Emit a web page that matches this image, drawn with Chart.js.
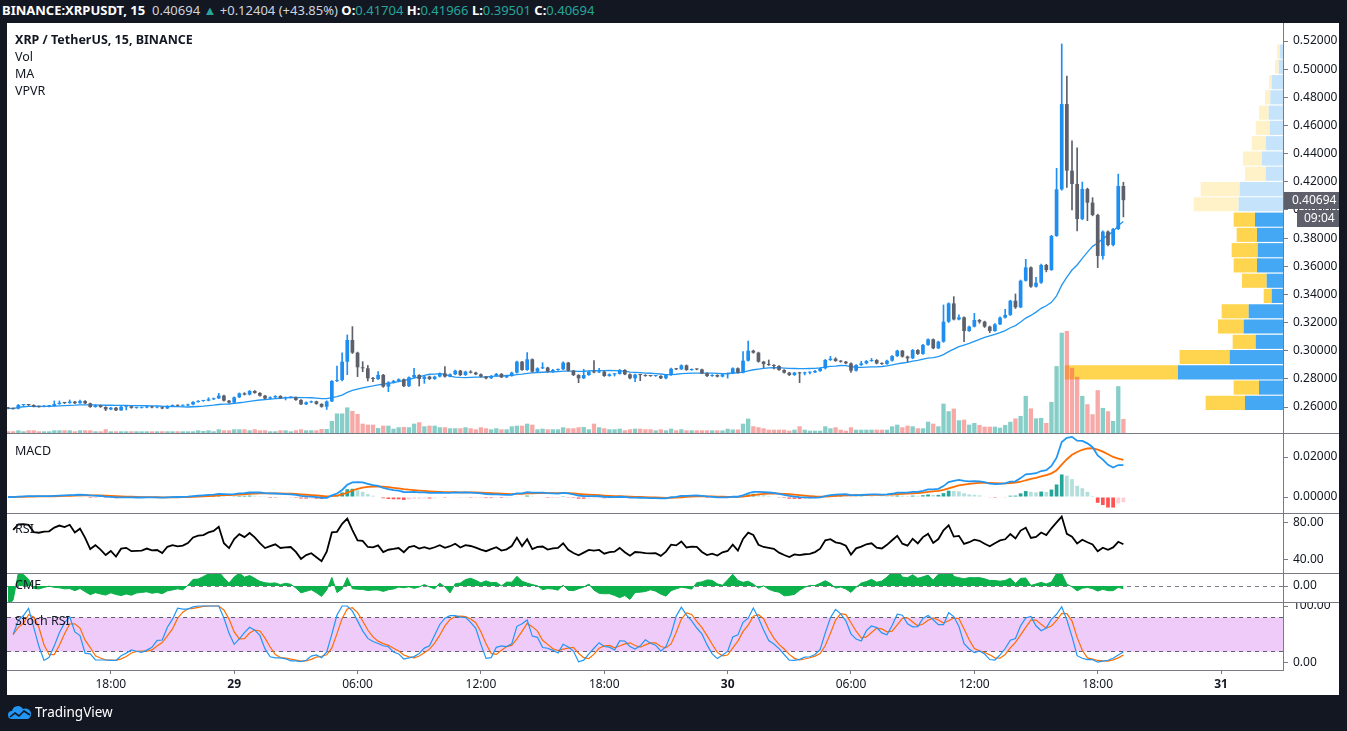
<!DOCTYPE html>
<html>
<head>
<meta charset="utf-8">
<title>XRP / TetherUS, 15, BINANCE</title>
<script src="https://cdn.jsdelivr.net/npm/chart.js@4.4.1/dist/chart.umd.min.js"></script>
<style>
  body { margin: 0; width: 1347px; height: 731px; background: #131722; position: relative; overflow: hidden; font-family: 'Noto Sans', sans-serif; }
  #panel { position: absolute; left: 7px; top: 23px; width: 1332px; height: 672px; background: #fff; }
  canvas { position: absolute; left: 7px; }
  .sep { position: absolute; left: 7px; width: 1332px; height: 1px; background: #787b86; }
  .lbl { position: absolute; left: 15px; font-size: 12.5px; color: #131722; line-height: 17px; white-space: nowrap; }
  #hdr { position: absolute; left: 2px; top: 1px; font-size: 13px; line-height: 18px; color: #d1d4dc; white-space: nowrap; }
  #hdr b { color: #fff; }
  #hdr .g { color: #26a69a; }
  #logo { position: absolute; left: 8px; top: 703px; color: #fff; font-size: 13.5px; line-height: 18px; }
  #logo svg { vertical-align: -3px; margin-right: 3px; }
</style>
</head>
<body>
<div id="hdr"><b>BINANCE:XRPUSDT, 15</b>&nbsp; <span>0.40694</span> <span class="g">▲</span> <span>+0.12404 (+43.85%)</span> <b>O:</b><span class="g">0.41704</span> <b>H:</b><span class="g">0.41966</span> <b>L:</b><span class="g">0.39501</span> <b>C:</b><span class="g">0.40694</span></div>
<div id="panel"></div>

<canvas id="vpvr" width="1276" height="410" style="top:23px"></canvas>
<canvas id="main" width="1332" height="410" style="top:23px"></canvas>
<canvas id="macd" width="1332" height="79" style="top:434px"></canvas>
<canvas id="rsi" width="1332" height="59" style="top:514px"></canvas>
<canvas id="cmf" width="1332" height="28" style="top:574px"></canvas>
<canvas id="stoch" width="1332" height="92" style="top:603px"></canvas>

<div class="sep" style="top:433px"></div>
<div class="sep" style="top:513px"></div>
<div class="sep" style="top:573px"></div>
<div class="sep" style="top:602px"></div>

<div class="lbl" style="top:31px"><b>XRP / TetherUS, 15, BINANCE</b><br>Vol<br>MA<br>VPVR</div>
<div class="lbl" style="top:442px">MACD</div>
<div class="lbl" style="top:520px">RSI</div>
<div class="lbl" style="top:576px">CMF</div>
<div class="lbl" style="top:612px">Stoch RSI</div>

<div id="logo"><svg width="24" height="16" viewBox="0 0 24 16"><path d="M4 15a4 4 0 0 1 0-8 6 6 0 0 1 11-2 5 5 0 0 1 5 10z" fill="#2196f3"/><path d="M2 13l5-4 4 3 5-5 6 4" stroke="#131722" stroke-width="1.6" fill="none"/></svg>TradingView</div>

<script>
// ============================================
// XRPUSDT 15m, 28 13:00 -> 30 19:15 (218 candles)
// ============================================

const firstOpen = 0.2595;

const closes = [
  0.2590,0.2588,0.2614,0.2615,0.2614,0.2603,0.2602,0.2606,0.2607,0.2621,
  0.2630,0.2628,0.2638,0.2627,0.2642,0.2626,0.2600,0.2612,0.2600,0.2583,
  0.2595,0.2576,0.2602,0.2605,0.2594,0.2595,0.2596,0.2602,0.2597,0.2598,
  0.2590,0.2607,0.2612,0.2609,0.2611,0.2618,0.2636,0.2643,0.2645,0.2655,
  0.2661,0.2681,0.2645,0.2631,0.2669,0.2697,0.2688,0.2714,0.2700,0.2680,
  0.2660,0.2669,0.2678,0.2664,0.2667,0.2668,0.2650,0.2619,0.2633,0.2640,
  0.2622,0.2602,0.2640,0.2785,0.2792,0.2922,0.3076,0.2986,0.2882,0.2875,
  0.2804,0.2799,0.2828,0.2745,0.2775,0.2785,0.2797,0.2748,0.2811,0.2827,
  0.2799,0.2816,0.2799,0.2816,0.2839,0.2816,0.2832,0.2858,0.2827,0.2851,
  0.2844,0.2832,0.2816,0.2804,0.2820,0.2835,0.2811,0.2820,0.2844,0.2922,
  0.2863,0.2939,0.2851,0.2875,0.2880,0.2851,0.2863,0.2868,0.2915,0.2858,
  0.2827,0.2804,0.2827,0.2851,0.2846,0.2851,0.2820,0.2832,0.2835,0.2863,
  0.2832,0.2804,0.2830,0.2827,0.2821,0.2820,0.2821,0.2804,0.2827,0.2872,
  0.2868,0.2896,0.2863,0.2868,0.2867,0.2839,0.2820,0.2827,0.2816,0.2832,
  0.2839,0.2875,0.2844,0.2929,0.3000,0.2986,0.2922,0.2905,0.2898,0.2891,
  0.2863,0.2844,0.2827,0.2844,0.2839,0.2844,0.2846,0.2856,0.2875,0.2934,
  0.2943,0.2927,0.2922,0.2910,0.2858,0.2898,0.2910,0.2927,0.2934,0.2910,
  0.2906,0.2929,0.2962,0.3000,0.2958,0.2946,0.3005,0.2977,0.3041,0.3081,
  0.3017,0.3064,0.3206,0.3336,0.3222,0.3237,0.3140,0.3171,0.3218,0.3206,
  0.3171,0.3140,0.3187,0.3235,0.3254,0.3355,0.3308,0.3497,0.3592,0.3455,
  0.3483,0.3609,0.3573,0.3815,0.4146,0.4752,0.4279,0.4184,0.3935,0.4149,
  0.4052,0.3964,0.3673,0.3846,0.3751,0.3864,0.4170,0.40694
];

const highs = [
  0.2598,0.2593,0.2618,0.2619,0.2619,0.2616,0.2607,0.2610,0.2611,0.2643,
  0.2643,0.2634,0.2650,0.2641,0.2650,0.2645,0.2628,0.2615,0.2614,0.2602,
  0.2598,0.2597,0.2605,0.2608,0.2607,0.2599,0.2599,0.2605,0.2604,0.2601,
  0.2600,0.2609,0.2615,0.2614,0.2614,0.2621,0.2639,0.2646,0.2648,0.2666,
  0.2664,0.2697,0.2684,0.2648,0.2672,0.2700,0.2702,0.2717,0.2717,0.2703,
  0.2683,0.2672,0.2681,0.2681,0.2671,0.2672,0.2670,0.2652,0.2636,0.2643,
  0.2642,0.2624,0.2644,0.2788,0.2891,0.2985,0.3112,0.3171,0.2990,0.2922,
  0.2895,0.2810,0.2851,0.2832,0.2780,0.2790,0.2800,0.2800,0.2815,0.2875,
  0.2830,0.2820,0.2820,0.2820,0.2843,0.2887,0.2836,0.2862,0.2861,0.2855,
  0.2858,0.2848,0.2835,0.2818,0.2824,0.2839,0.2838,0.2824,0.2848,0.2926,
  0.2925,0.2986,0.2942,0.2879,0.2915,0.2883,0.2867,0.2871,0.2920,0.2918,
  0.2861,0.2830,0.2868,0.2855,0.2929,0.2875,0.2854,0.2836,0.2839,0.2867,
  0.2866,0.2835,0.2834,0.2833,0.2829,0.2824,0.2824,0.2823,0.2830,0.2876,
  0.2875,0.2900,0.2899,0.2871,0.2871,0.2870,0.2842,0.2830,0.2829,0.2835,
  0.2842,0.2879,0.2878,0.2993,0.3069,0.3004,0.2990,0.2925,0.2934,0.2902,
  0.2894,0.2866,0.2847,0.2847,0.2847,0.2848,0.2850,0.2860,0.2879,0.2938,
  0.2960,0.2950,0.2930,0.2925,0.2913,0.2902,0.2925,0.2931,0.2945,0.2937,
  0.2914,0.2933,0.2966,0.3004,0.3003,0.2962,0.3009,0.3008,0.3045,0.3085,
  0.3084,0.3068,0.3325,0.3340,0.3384,0.3255,0.3240,0.3175,0.3265,0.3222,
  0.3210,0.3175,0.3192,0.3240,0.3294,0.3359,0.3403,0.3502,0.3649,0.3596,
  0.3521,0.3615,0.3614,0.3820,0.4296,0.5179,0.4951,0.4490,0.4442,0.4198,
  0.4155,0.4087,0.3970,0.3852,0.3852,0.3870,0.4255,0.41966
];

const lows = [
  0.2586,0.2584,0.2586,0.2610,0.2610,0.2600,0.2598,0.2600,0.2601,0.2605,
  0.2619,0.2624,0.2626,0.2624,0.2625,0.2623,0.2597,0.2598,0.2597,0.2574,
  0.2580,0.2574,0.2575,0.2579,0.2591,0.2591,0.2592,0.2594,0.2594,0.2594,
  0.2587,0.2588,0.2605,0.2606,0.2606,0.2609,0.2615,0.2634,0.2640,0.2643,
  0.2652,0.2659,0.2642,0.2628,0.2629,0.2666,0.2685,0.2685,0.2697,0.2677,
  0.2657,0.2658,0.2666,0.2661,0.2650,0.2664,0.2647,0.2616,0.2617,0.2630,
  0.2619,0.2598,0.2583,0.2638,0.2780,0.2785,0.2830,0.2980,0.2816,0.2851,
  0.2785,0.2780,0.2795,0.2740,0.2709,0.2770,0.2782,0.2744,0.2745,0.2808,
  0.2749,0.2768,0.2795,0.2796,0.2813,0.2812,0.2813,0.2829,0.2823,0.2824,
  0.2841,0.2829,0.2813,0.2800,0.2802,0.2818,0.2808,0.2808,0.2818,0.2841,
  0.2860,0.2860,0.2847,0.2848,0.2872,0.2848,0.2845,0.2860,0.2866,0.2855,
  0.2823,0.2773,0.2801,0.2825,0.2842,0.2843,0.2817,0.2818,0.2820,0.2833,
  0.2829,0.2800,0.2780,0.2787,0.2818,0.2817,0.2817,0.2801,0.2800,0.2825,
  0.2865,0.2866,0.2860,0.2860,0.2864,0.2836,0.2816,0.2817,0.2813,0.2813,
  0.2805,0.2836,0.2840,0.2842,0.2926,0.2982,0.2918,0.2880,0.2895,0.2870,
  0.2859,0.2840,0.2823,0.2824,0.2773,0.2828,0.2835,0.2843,0.2853,0.2870,
  0.2930,0.2924,0.2918,0.2906,0.2845,0.2855,0.2895,0.2906,0.2924,0.2906,
  0.2902,0.2903,0.2926,0.2958,0.2954,0.2920,0.2943,0.2973,0.2974,0.3038,
  0.3013,0.3014,0.3060,0.3200,0.3218,0.3218,0.3064,0.3136,0.3168,0.3195,
  0.3165,0.3128,0.3137,0.3184,0.3231,0.3250,0.3300,0.3305,0.3494,0.3450,
  0.3452,0.3478,0.3560,0.3570,0.3812,0.4140,0.4160,0.4000,0.3850,0.3930,
  0.3924,0.3958,0.3590,0.3651,0.3745,0.3745,0.3860,0.39501
];

// volume, millions XRP (estimated)
const volumes = [
  1.7,1.7,2.7,1.7,2.7,2.7,1.7,1.7,1.7,2.7,
  2.7,2.7,2.7,1.7,2.7,2.7,2.7,1.7,1.7,3.7,
  1.7,1.7,1.7,1.7,1.7,1.7,1.7,1.7,1.7,1.7,
  1.7,1.7,1.7,1.7,1.7,1.7,1.7,2.7,2.0,2.7,
  1.7,3.7,2.7,2.7,3.7,3.7,3.7,2.7,3.7,2.7,
  2.7,1.7,1.7,2.7,2.7,1.7,2.7,3.7,2.7,2.7,
  2.7,4.0,4.0,12.0,19.5,19.5,25.5,22.0,19.0,9.3,
  8.3,8.3,5.0,7.3,7.3,4.3,5.7,6.0,5.7,9.3,
  10.7,6.7,7.3,7.3,5.7,5.7,4.7,4.7,4.7,5.7,
  4.7,3.7,5.7,4.7,3.7,4.7,3.7,3.7,6.7,7.3,
  7.3,9.3,8.3,3.7,4.3,3.7,3.7,3.7,5.7,4.7,
  4.7,5.7,6.0,3.7,9.3,5.7,4.7,3.7,3.7,4.3,
  2.7,3.7,4.3,4.3,3.7,3.7,2.7,3.7,2.7,4.3,
  2.7,3.7,2.7,2.7,2.7,2.7,2.7,2.7,2.7,2.5,
  4.2,3.5,3.5,9.3,14.3,6.7,5.7,4.7,3.3,3.3,
  3.3,3.3,2.3,3.3,6.7,3.3,2.3,2.3,2.3,6.7,
  4.7,5.7,3.3,2.3,5.7,3.3,3.3,3.3,3.3,3.3,
  3.3,3.3,6.7,8.3,5.7,7.3,6.7,4.7,4.7,11.3,
  9.3,6.7,29.3,21.7,24.3,12.7,13.3,8.3,10.0,8.0,
  6.3,6.3,6.3,5.3,8.0,11.2,14.5,17.0,37.0,24.5,
  14.6,15.0,10.0,31.0,66.7,100.0,101.7,65.0,56.0,37.0,
  28.7,18.7,42.7,25.0,21.7,12.0,46.7,14.0
];

// time axis: candle index of each label
const tickIndex = [20, 44, 68, 92, 116, 140, 164, 188, 212, 236];
const tickLabels = ['18:00', '29', '06:00', '12:00', '18:00', '30', '06:00', '12:00', '18:00', '31'];

const priceTicks = [0.26, 0.28, 0.30, 0.32, 0.34, 0.36, 0.38, 0.40, 0.42, 0.44, 0.46, 0.48, 0.50, 0.52];
const macdTicks = [0, 0.02];
const rsiTicks = [40, 80];
const cmfTicks = [0];
const stochTicks = [0, 20, 80, 100];

// visible range profile, 24 rows, bottom -> top
const vpvrPrices = [0.2629, 0.2738, 0.2846, 0.2955, 0.3063, 0.3172, 0.3280, 0.3389, 0.3497, 0.3606, 0.3714, 0.3823,
                    0.3931, 0.4040, 0.4148, 0.4257, 0.4365, 0.4474, 0.4583, 0.4691, 0.4800, 0.4908, 0.5017, 0.5125];
const vpvrUp   = [38, 24, 105, 53.3, 27.3, 39.3, 34.3, 11.3, 16.3, 26, 25.3, 26, 28, 44.3, 43.3, 17.3, 21.3, 17.3, 13.3, 14.3, 12.7, 11.3, 4.3, 3.3];
const vpvrDown = [39.3, 25.3, 113, 50, 23, 25.7, 27, 8, 24.7, 23.3, 26, 20.3, 21.3, 45, 39, 20.7, 18.7, 14, 14, 9.7, 5.3, 2.7, 3.7, 2.7];
const vpvrValueAreaHigh = 0.3985;

// ============================================
// INDICATORS
// ============================================

const idx = closes.map((c, i) => i);
const opens = closes.map((c, i) => i ? closes[i - 1] : firstOpen);
const isUp = idx.map(i => closes[i] >= opens[i]);

function sma(arr, n) {
    return arr.map((v, i) => {
        if (v == null) return null;
        const w = arr.slice(Math.max(0, i - n + 1), i + 1).filter(x => x != null);
        return w.reduce((a, b) => a + b, 0) / w.length;
    });
}

function ema(arr, n) {
    const k = 2 / (n + 1);
    const out = [];
    arr.forEach((v, i) => out.push(i === 0 ? v : v * k + out[i - 1] * (1 - k)));
    return out;
}

// Wilder RSI, averages seeded from the first n changes
function rsi(arr, n) {
    const ch = arr.map((v, i) => i ? v - arr[i - 1] : 0);
    const seed = ch.slice(1, n + 1);
    let up = seed.reduce((a, c) => a + Math.max(c, 0), 0) / n;
    let dn = seed.reduce((a, c) => a + Math.max(-c, 0), 0) / n;
    return arr.map((v, i) => {
        if (i === 0) return null;
        up = (up * (n - 1) + Math.max(ch[i], 0)) / n;
        dn = (dn * (n - 1) + Math.max(-ch[i], 0)) / n;
        return dn === 0 ? 100 : 100 - 100 / (1 + up / dn);
    });
}

const ma = sma(closes, 20);

const ema12 = ema(closes, 12);
const ema26 = ema(closes, 26);
const macdLine = idx.map(i => ema12[i] - ema26[i]);
const signal = ema(macdLine, 9);
const hist = idx.map(i => macdLine[i] - signal[i]);

const rsiVals = rsi(closes, 14);
const stochRaw = rsiVals.map((r, i) => {
    if (r == null) return null;
    const w = rsiVals.slice(Math.max(1, i - 13), i + 1);
    const lo = Math.min(...w), hi = Math.max(...w);
    return hi > lo ? (r - lo) / (hi - lo) * 100 : 50;
});
const stochK = sma(stochRaw, 3);
const stochD = sma(stochK, 3);

const mfv = idx.map(i => highs[i] > lows[i]
    ? ((closes[i] - lows[i]) - (highs[i] - closes[i])) / (highs[i] - lows[i]) * volumes[i] : 0);
const cmf = idx.map(i => {
    let s = 0, v = 0;
    for (let j = Math.max(0, i - 19); j <= i; j++) { s += mfv[j]; v += volumes[j]; }
    return s / v;
});

// ============================================
// CHART SETUP
// ============================================

Chart.defaults.font.family = "'Noto Sans', sans-serif";
Chart.defaults.font.size = 12;
Chart.defaults.color = '#131722';
Chart.defaults.animation = false;
Chart.defaults.events = [];
Chart.defaults.plugins.legend.display = false;
Chart.defaults.plugins.tooltip.enabled = false;

const axisColor = '#787b86';
const upColor = '#1f8ef1';
const downColor = '#5d606b';
const priceMin = 0.24153, priceMax = 0.53279;

function timeAxis(show) {
    return {
        type: 'linear', min: -0.2, max: 248.05, offset: false, display: show,
        afterBuildTicks: s => { s.ticks = tickIndex.map(v => ({ value: v })); },
        afterFit: s => { s.paddingLeft = 0; s.paddingRight = 0; if (show) s.height = 25; },
        grid: { drawOnChartArea: false, offset: false, tickLength: 4, color: axisColor },
        border: { color: axisColor },
        ticks: {
            autoSkip: false, maxRotation: 0, padding: 3, color: '#131722',
            callback: (v, i) => tickLabels[i],
            font: c => ({ size: 12, weight: /^\d+$/.test(tickLabels[c.index] || '') ? 'bold' : 'normal' })
        }
    };
}

function valueAxis(min, max, ticks, digits, extra) {
    extra = extra || {};
    return {
        position: 'right', min, max, offset: false,
        afterBuildTicks: s => { s.ticks = ticks.map(v => ({ value: v })); },
        afterFit: s => { s.width = 56; s.paddingTop = 0; s.paddingBottom = 0; },
        grid: Object.assign({ drawOnChartArea: false, tickLength: 5, color: axisColor, tickColor: axisColor }, extra.grid),
        border: { color: axisColor, dash: extra.dash || [] },
        ticks: { padding: 5, color: '#131722', font: { size: 12 }, callback: extra.label || (v => v.toFixed(digits)) }
    };
}

const lastPriceTag = {
    id: 'lastPriceTag',
    afterDraw(chart) {
        const { ctx, chartArea } = chart;
        const last = closes[closes.length - 1];
        const y = Math.round(chart.scales.y.getPixelForValue(last));
        const x = chartArea.right;
        ctx.save();
        ctx.fillStyle = isUp[isUp.length - 1] ? upColor : downColor;
        ctx.fillRect(x + 1, y - 8, 55, 17);
        ctx.fillStyle = '#5d606b';
        ctx.fillRect(x + 14, y + 10, 42, 17);
        ctx.fillStyle = '#ffffff';
        ctx.font = "12px 'Noto Sans', sans-serif";
        ctx.textBaseline = 'middle';
        ctx.fillText(last.toFixed(5), x + 9, y + 1);
        ctx.fillText('09:04', x + 21, y + 19);
        ctx.restore();
    }
};

const stochBand = {
    id: 'stochBand',
    beforeDraw(chart) {
        const { ctx, chartArea: a, scales: { y } } = chart;
        const top = y.getPixelForValue(80), bottom = y.getPixelForValue(20);
        ctx.save();
        ctx.fillStyle = '#efcbfa';
        ctx.fillRect(a.left, top, a.right - a.left, bottom - top);
        ctx.restore();
    }
};

// ---- volume profile (drawn underneath the price pane) ----
const vpvrTotals = vpvrPrices.map((p, k) => vpvrUp[k] + vpvrDown[k]);
const vpvrWidthShare = 0.171;
new Chart(document.getElementById('vpvr'), {
    type: 'bar',
    data: {
        datasets: [{
            data: vpvrPrices.map((p, k) => ({ y: p, x: [0, vpvrUp[k]] })),
            backgroundColor: vpvrPrices.map(p => p > vpvrValueAreaHigh ? '#c5e3fb' : '#44a8f4'),
            barPercentage: 0.93, categoryPercentage: 1, grouped: false
        }, {
            data: vpvrPrices.map((p, k) => ({ y: p, x: [vpvrUp[k], vpvrTotals[k]] })),
            backgroundColor: vpvrPrices.map(p => p > vpvrValueAreaHigh ? '#fff2c8' : '#ffd54f'),
            barPercentage: 0.93, categoryPercentage: 1, grouped: false
        }]
    },
    options: {
        indexAxis: 'y', responsive: false, layout: { padding: 0 },
        scales: {
            y: { type: 'linear', display: false, min: priceMin, max: priceMax, offset: false },
            x: { type: 'linear', display: false, reverse: true, min: 0, max: Math.max(...vpvrTotals) / vpvrWidthShare }
        }
    }
});

// ---- price pane: candles, MA, volume ----
const candleColors = isUp.map(u => u ? upColor : downColor);
const volumeColors = isUp.map(u => u ? 'rgba(38, 166, 154, 0.55)' : 'rgba(239, 83, 80, 0.5)');

new Chart(document.getElementById('main'), {
    type: 'bar',
    data: {
        datasets: [
            { type: 'bar', data: idx.map(i => ({ x: i, y: [opens[i], closes[i]] })), backgroundColor: candleColors,
              barPercentage: 0.72, categoryPercentage: 1, minBarLength: 1, grouped: false, order: 0 },
            { type: 'bar', data: idx.map(i => ({ x: i, y: [lows[i], highs[i]] })), backgroundColor: candleColors,
              barThickness: 1, grouped: false, order: 1 },
            { type: 'line', data: idx.map(i => ({ x: i, y: ma[i] })), borderColor: '#2196f3', borderWidth: 1.3,
              pointRadius: 0, order: 2 },
            { type: 'bar', yAxisID: 'yv', data: idx.map(i => ({ x: i, y: volumes[i] })), backgroundColor: volumeColors,
              barPercentage: 0.84, categoryPercentage: 1, grouped: false, order: 3 }
        ]
    },
    options: {
        responsive: false, layout: { padding: 0 },
        scales: {
            x: timeAxis(false),
            y: valueAxis(priceMin, priceMax, priceTicks, 5),
            yv: { display: false, min: 0, max: Math.max(...volumes) * 4.02 }
        }
    },
    plugins: [lastPriceTag]
});

// ---- MACD ----
const histColors = hist.map((h, i) => {
    const prev = i ? hist[i - 1] : h;
    if (h >= 0) return h >= prev ? '#26a69a' : '#b2dfdb';
    return h <= prev ? '#ff5252' : '#ffcdd2';
});

new Chart(document.getElementById('macd'), {
    type: 'bar',
    data: {
        datasets: [
            { type: 'line', data: idx.map(i => ({ x: i, y: macdLine[i] })), borderColor: '#2196f3', borderWidth: 1.8, pointRadius: 0, order: 0 },
            { type: 'line', data: idx.map(i => ({ x: i, y: signal[i] })), borderColor: '#ff6d00', borderWidth: 1.8, pointRadius: 0, order: 1 },
            { type: 'bar', data: idx.map(i => ({ x: i, y: hist[i] })), backgroundColor: histColors,
              barPercentage: 0.72, categoryPercentage: 1, order: 2 }
        ]
    },
    options: {
        responsive: false, layout: { padding: 0 },
        scales: { x: timeAxis(false), y: valueAxis(-0.008, 0.0315, macdTicks, 5) }
    }
});

// ---- RSI ----
new Chart(document.getElementById('rsi'), {
    type: 'line',
    data: { datasets: [{ data: idx.map(i => ({ x: i, y: rsiVals[i] })), borderColor: '#000000', borderWidth: 1.8, pointRadius: 0 }] },
    options: {
        responsive: false, layout: { padding: 0 },
        scales: { x: timeAxis(false), y: valueAxis(25.95, 89.7, rsiTicks, 2) }
    }
});

// ---- CMF ----
new Chart(document.getElementById('cmf'), {
    type: 'line',
    data: { datasets: [{ data: idx.map(i => ({ x: i, y: cmf[i] })), borderColor: '#0cb14b', backgroundColor: '#0cb14b',
                         borderWidth: 1, pointRadius: 0, fill: 'origin' }] },
    options: {
        responsive: false, layout: { padding: 0 },
        scales: {
            x: timeAxis(false),
            y: valueAxis(-0.26, 0.195, cmfTicks, 2, { grid: { drawOnChartArea: true }, dash: [4, 4] })
        }
    }
});

// ---- Stoch RSI + time axis ----
new Chart(document.getElementById('stoch'), {
    type: 'line',
    data: {
        datasets: [
            { data: idx.map(i => ({ x: i, y: stochK[i] })), borderColor: '#2196f3', borderWidth: 1.2, pointRadius: 0 },
            { data: idx.map(i => ({ x: i, y: stochD[i] })), borderColor: '#ff6d00', borderWidth: 1.2, pointRadius: 0 }
        ]
    },
    options: {
        responsive: false, layout: { padding: 0 },
        scales: {
            x: timeAxis(true),
            y: valueAxis(-12.3, 105.3, stochTicks, 2, {
                grid: {
                    drawOnChartArea: true,
                    color: c => (c.tick && (c.tick.value === 20 || c.tick.value === 80)) ? '#5d606b' : 'rgba(0,0,0,0)',
                    tickColor: c => (c.tick && (c.tick.value === 0 || c.tick.value === 100)) ? axisColor : 'rgba(0,0,0,0)'
                },
                dash: [4, 4],
                label: v => (v === 0 || v === 100) ? v.toFixed(2) : ''
            })
        }
    },
    plugins: [stochBand]
});
</script>
</body>
</html>
